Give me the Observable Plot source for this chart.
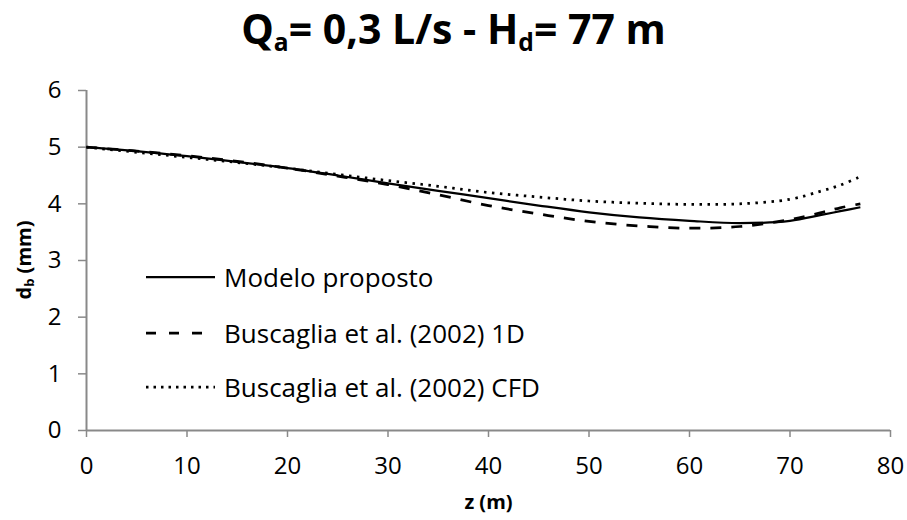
<!DOCTYPE html>
<html>
<head>
<meta charset="utf-8">
<script src="https://cdn.jsdelivr.net/npm/d3@7"></script>
<script src="https://cdn.jsdelivr.net/npm/@observablehq/plot@0.6"></script>
<style>
  body { margin: 0; background: #fff; }
  #wrap { position: relative; width: 907px; height: 520px; font-family: 'Open Sans', sans-serif; color: #000; }
  #title { position: absolute; left: 0; top: 8px; width: 907px; text-align: center; font-weight: bold; font-size: 41px; line-height: 41px; white-space: nowrap; }
  #title sub { font-size: 60%; line-height: 0; vertical-align: -0.28em; }
  #ylab { position: absolute; left: 24px; top: 260px; transform: translate(-50%, -50%) rotate(-90deg); font-weight: bold; font-size: 20px; white-space: nowrap; line-height: 20px; }
  #ylab sub { font-size: 65%; line-height: 0; vertical-align: -0.25em; }
  .lg { position: absolute; left: 146px; height: 34px; display: flex; align-items: center; font-size: 26px; white-space: nowrap; }
  .lg svg { margin-right: 9px; }
</style>
</head>
<body>
<div id="wrap">
  <div id="chart"></div>
  <div id="title">Q<sub>a</sub>= 0,3 L/s - H<sub>d</sub>= 77 m</div>
  <div id="ylab">d<sub>b</sub> (mm)</div>
  <div id="legend"></div>
</div>
<script>
// Data
const z = [0, 5, 10, 15, 20, 25, 30, 35, 40, 45, 50, 55, 60, 65, 70, 73, 75, 77];
const modeloProposto = [5.00, 4.93, 4.84, 4.74, 4.63, 4.50, 4.36, 4.23, 4.10, 3.97, 3.85, 3.76, 3.70, 3.66, 3.70, 3.80, 3.87, 3.94];
const buscaglia1D    = [5.00, 4.93, 4.85, 4.75, 4.63, 4.49, 4.34, 4.16, 3.97, 3.82, 3.69, 3.61, 3.57, 3.60, 3.72, 3.84, 3.93, 4.00];
const buscagliaCFD   = [5.00, 4.91, 4.82, 4.73, 4.63, 4.52, 4.41, 4.31, 4.20, 4.12, 4.05, 4.01, 3.99, 4.00, 4.08, 4.22, 4.33, 4.48];
const seriesNames = ["Modelo proposto", "Buscaglia et al. (2002) 1D", "Buscaglia et al. (2002) CFD"];
const xTicks = [0, 10, 20, 30, 40, 50, 60, 70, 80];
const yTicks = [0, 1, 2, 3, 4, 5, 6];
const xLabel = "z (m)";

const styles = [
  { dash: null, width: 2.25 },
  { dash: "11,10", width: 2.75 },
  { dash: "2.5,5.5", width: 2.75 }
];

const seriesValues = [modeloProposto, buscaglia1D, buscagliaCFD];
const rows = seriesNames.map((name, i) => z.map((zz, j) => ({ name, z: zz, d: seriesValues[i][j] })));

const plot = Plot.plot({
  width: 907,
  height: 520,
  marginTop: 90,
  marginBottom: 90,
  marginLeft: 86,
  marginRight: 17,
  style: { fontFamily: "'Open Sans', sans-serif", fontSize: "24px", color: "#000", background: "transparent", overflow: "visible" },
  x: { domain: [0, 80] },
  y: { domain: [0, 6] },
  marks: [
    Plot.axisX({ ticks: xTicks, tickFormat: d3.format("d"), tickSize: 7, tickPadding: 19, stroke: "#898989", strokeWidth: 1.5, fill: "#000", fontSize: 24, label: null }),
    Plot.axisY({ ticks: yTicks, tickFormat: d3.format("d"), tickSize: 8, tickPadding: 17, stroke: "#898989", strokeWidth: 1.5, fill: "#000", fontSize: 24, label: null }),
    Plot.ruleY([0], { stroke: "#898989", strokeWidth: 2 }),
    Plot.ruleX([0], { stroke: "#898989", strokeWidth: 2 }),
    ...rows.map((r, i) => Plot.line(r, {
      x: "z", y: "d", curve: "catmull-rom",
      stroke: "#000", strokeWidth: styles[i].width,
      strokeDasharray: styles[i].dash, strokeLinecap: "butt"
    })),
    Plot.text([xLabel], { text: d => d, frameAnchor: "bottom", dy: 78, fontWeight: "bold", fontSize: 20, fill: "#000" })
  ]
});
document.getElementById("chart").appendChild(plot);

// Legend (inside plot area, as in the reference)
const legendTops = [260, 316, 370];
const legend = document.getElementById("legend");
seriesNames.forEach((name, i) => {
  const row = document.createElement("div");
  row.className = "lg";
  row.style.top = legendTops[i] + "px";
  const dash = styles[i].dash ? `stroke-dasharray="${i === 1 ? '10,13' : '2.5,5'}"` : "";
  row.innerHTML = `<svg width="69" height="10"><line x1="0" x2="69" y1="5" y2="5" stroke="#000" stroke-width="${styles[i].width}" ${dash}/></svg><span>${name}</span>`;
  legend.appendChild(row);
});
</script>
</body>
</html>
